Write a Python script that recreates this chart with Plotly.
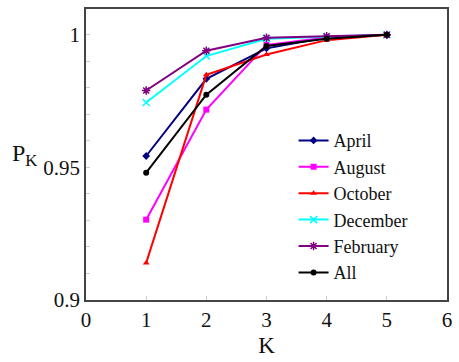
import plotly.graph_objects as go

K = [1, 2, 3, 4, 5]
april = [0.9543, 0.9834, 0.9949, 0.9990, 1.0]
august = [0.9303, 0.9718, 0.9962, 0.9990, 1.0]
october = [0.9140, 0.9849, 0.9926, 0.9980, 1.0]
december = [0.9745, 0.9920, 0.9985, 0.9993, 1.0]
february = [0.9790, 0.9940, 0.9989, 0.9995, 1.0]
all_ = [0.9480, 0.9774, 0.9958, 0.9985, 1.0]

series = [
    ("April", april, "#000080", "diamond"),
    ("August", august, "#ff00ff", "square"),
    ("October", october, "#ff0000", "triangle-up"),
    ("December", december, "#00ffff", "x-thin"),
    ("February", february, "#800080", "asterisk"),
    ("All", all_, "#000000", "circle"),
]

y_tickvals = [0.9, 0.95, 1.0]
y_ticktext = ["0.9", "0.95", "1"]
x_tickvals = [0, 1, 2, 3, 4, 5, 6]

fig = go.Figure()
for name, vals, col, sym in series:
    mk = dict(symbol=sym, size=6, color=col)
    if sym in ("x-thin", "asterisk"):
        mk = dict(symbol=sym + "-open" if sym == "asterisk" else sym, size=7,
                  color=col, line=dict(color=col, width=1.5))
    fig.add_trace(go.Scatter(x=K, y=vals, mode="lines+markers", name=name,
                             line=dict(color=col, width=2), marker=mk))

font_fam = "Liberation Serif"
pw, ph = 459 - 86 - 8, 362 - 7 - 62
fig.update_layout(
    width=459, height=362,
    margin=dict(l=86, r=8, t=7, b=62),
    paper_bgcolor="white", plot_bgcolor="white",
    font=dict(family=font_fam, size=21, color="#111"),
    showlegend=True,
    legend=dict(x=0.575, y=1 - (121 - 7) / ph, xanchor="left", yanchor="top",
                bgcolor="rgba(255,255,255,0)", font=dict(size=18, family=font_fam),
                itemwidth=30, tracegroupgap=0),
    xaxis=dict(range=[0, 6], tickvals=x_tickvals, showgrid=False, zeroline=False,
               showline=True, mirror=True, linecolor="#444", linewidth=1.5,
               ticks="inside", ticklen=4, tickcolor="#ccc",
               title=dict(text="K", font=dict(size=23, family=font_fam), standoff=6)),
    yaxis=dict(range=[0.9, 1.00974], tickvals=y_tickvals, ticktext=y_ticktext,
               showgrid=False, zeroline=False,
               showline=True, mirror=True, linecolor="#444", linewidth=1.5,
               ticks="inside", ticklen=4, tickcolor="#ccc",
               minor=dict(dtick=0.01, tick0=0.9, ticks="inside", ticklen=4, tickcolor="#ccc")),
)
fig.add_annotation(text="P<sub>K</sub>", xref="paper", yref="paper",
                   x=(9 - 86) / pw, y=1 - (154 - 7) / ph, xanchor="left",
                   showarrow=False, font=dict(size=24, family=font_fam))
fig.write_html("out.html")
